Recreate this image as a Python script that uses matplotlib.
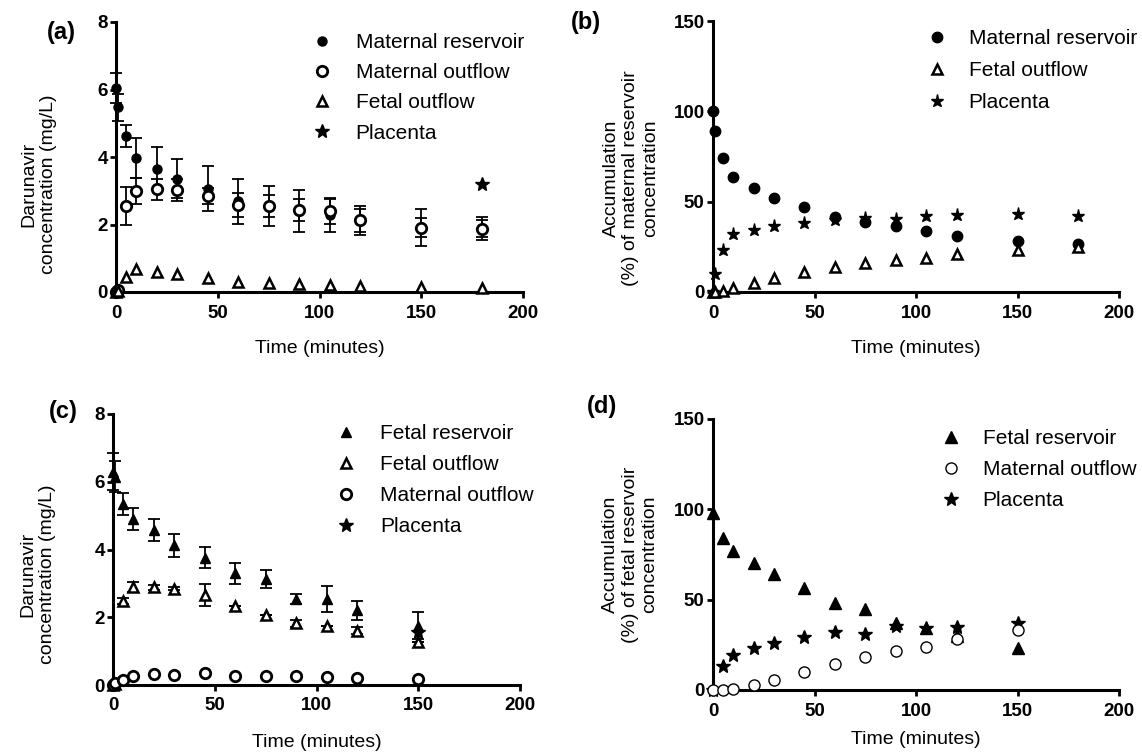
import numpy as np
import matplotlib
matplotlib.use('Agg')
import matplotlib.pyplot as plt

plt.rcParams['font.family'] = ['Liberation Sans', 'DejaVu Sans']

# ---- data ----
t_all = [0, 1, 5, 10, 20, 30, 45, 60, 75, 90, 105, 120, 150, 180]

# (a) darunavir concentration, maternal -> fetal perfusion (mg/L)
a_mat_res = [6.05, 5.48, 4.62, 3.98, 3.65, 3.36, 3.06, 2.69, 2.55, 2.40, 2.27, 2.12, 1.90, 1.88]
a_mat_res_sd = [0.45, 0.40, 0.33, 0.59, 0.64, 0.58, 0.67, 0.67, 0.60, 0.62, 0.50, 0.42, 0.55, 0.25]
a_mat_out = [0.0, 0.05, 2.55, 2.99, 3.04, 3.03, 2.85, 2.57, 2.55, 2.42, 2.40, 2.12, 1.90, 1.88]
a_mat_out_sd = [0.0, 0.0, 0.55, 0.38, 0.32, 0.33, 0.23, 0.36, 0.32, 0.33, 0.38, 0.35, 0.28, 0.35]
a_fet_out = [0.0, 0.02, 0.45, 0.69, 0.60, 0.52, 0.41, 0.31, 0.27, 0.23, 0.20, 0.17, 0.15, 0.13]
a_plac_t = [180]
a_plac = [3.21]

# (b) accumulation, % of maternal reservoir
b_mat_res = [100, 88.9, 74.4, 63.7, 57.6, 52.2, 47.0, 41.5, 38.7, 36.7, 33.8, 31.0, 28.0, 26.8]
b_fet_out = [0, 0, 0.8, 2.2, 5.0, 7.7, 11.0, 13.8, 16.0, 17.9, 19.0, 21.2, 23.0, 24.9]
b_plac = [0, 10.1, 23.4, 32.3, 34.5, 36.7, 38.4, 40.0, 41.0, 40.6, 41.9, 42.4, 43.0, 41.9]

# (c) darunavir concentration, fetal -> maternal perfusion (mg/L)
t_c = [0, 1, 5, 10, 20, 30, 45, 60, 75, 90, 105, 120, 150]
c_fet_res = [6.30, 6.15, 5.34, 4.90, 4.58, 4.12, 3.76, 3.30, 3.12, 2.53, 2.54, 2.20, 1.75]
c_fet_res_sd = [0.55, 0.45, 0.33, 0.33, 0.33, 0.33, 0.32, 0.31, 0.27, 0.15, 0.38, 0.28, 0.40]
c_fet_out = [0.0, 0.02, 2.48, 2.90, 2.88, 2.84, 2.66, 2.32, 2.07, 1.82, 1.74, 1.60, 1.28]
c_fet_out_sd = [0.0, 0.0, 0.10, 0.15, 0.08, 0.05, 0.32, 0.0, 0.0, 0.10, 0.0, 0.10, 0.0]
c_mat_out = [0.0, 0.05, 0.15, 0.27, 0.31, 0.29, 0.34, 0.28, 0.28, 0.27, 0.23, 0.20, 0.17]
c_plac_t = [150]
c_plac = [1.55]

# (d) accumulation, % of fetal reservoir
t_d = [0, 5, 10, 20, 30, 45, 60, 75, 90, 105, 120, 150]
d_fet_res = [98, 84, 77, 70.2, 64.1, 56.3, 48.4, 44.7, 36.9, 34.2, 29.9, 23.1]
d_mat_out = [0, 0, 0.5, 2.8, 5.5, 9.8, 14.4, 18.1, 21.8, 24.0, 28.3, 33.3]
d_plac = [0, 13.5, 19.4, 23.1, 26.2, 29.2, 32.0, 31.0, 35.5, 34.5, 35.1, 37.3]

W, H = 1142, 753
fig = plt.figure(figsize=(W / 100, H / 100), dpi=100)


def px_axes(l, t, r, b):
    return fig.add_axes([l / W, 1 - b / H, (r - l) / W, (b - t) / H])


def style(ax, ymax, ystep, xpad):
    for s in ['top', 'right']:
        ax.spines[s].set_visible(False)
    for s in ['left', 'bottom']:
        ax.spines[s].set_linewidth(2.2)
    ax.set_xlim(0, 200)
    ax.set_ylim(0, ymax)
    ax.set_xticks([0, 50, 100, 150, 200])
    ax.set_yticks(np.arange(0, ymax + 0.1, ystep))
    ax.tick_params(width=2, length=4, labelsize=13.5)
    ax.tick_params(axis='x', pad=5)
    ax.tick_params(axis='y', pad=2)
    for lab in ax.get_xticklabels() + ax.get_yticklabels():
        lab.set_fontweight('bold')
    ax.set_xlabel('Time (minutes)', fontsize=14, labelpad=xpad)


filled = dict(color='black', linestyle='none', clip_on=False, zorder=4)
opened = dict(color='black', mfc='white', linestyle='none', clip_on=False, zorder=5)
ebar = dict(ecolor='black', elinewidth=1.3, capsize=4, capthick=1.3, clip_on=False)


def add_legend(ax, x, top, pad, spacing):
    ax.legend(loc='upper left', bbox_to_anchor=(x / W, 1 - top / H), bbox_transform=fig.transFigure,
              frameon=False, fontsize=15, handlelength=1.0, handletextpad=pad,
              borderpad=0, borderaxespad=0, labelspacing=spacing, numpoints=1)


# ---- (a) ----
ax1 = px_axes(116, 22, 523, 292)
style(ax1, 8, 2, 13)
ax1.errorbar(t_all, a_mat_res, yerr=a_mat_res_sd, fmt='none', zorder=2, **ebar)
ax1.errorbar(t_all, a_mat_out, yerr=a_mat_out_sd, fmt='none', zorder=2, **ebar)
ax1.plot(t_all, a_mat_res, marker='o', ms=6.5, label='Maternal reservoir', **filled)
ax1.plot(t_all, a_mat_out, marker='o', ms=7.5, mew=2, label='Maternal outflow', **opened)
ax1.plot(t_all, a_fet_out, marker='^', ms=6.5, mew=1.8, label='Fetal outflow', **opened)
ax1.plot(a_plac_t, a_plac, marker='*', ms=10, label='Placenta', **filled)
ax1.set_ylabel('Darunavir\nconcentration (mg/L)', fontsize=14)
ax1.yaxis.set_label_coords(-0.146, 0.40)
add_legend(ax1, 312, 33, 1.1, 0.54)
fig.text(47 / W, 1 - 33 / H, '(a)', fontsize=17, fontweight='bold', va='center')

# ---- (b) ----
ax2 = px_axes(713, 21, 1119, 292)
style(ax2, 150, 50, 13)
ax2.plot(t_all, b_mat_res, marker='o', ms=7.5, label='Maternal reservoir', **filled)
ax2.plot(t_all, b_fet_out, marker='^', ms=6.5, mew=1.8, label='Fetal outflow', **opened)
ax2.plot(t_all, b_plac, marker='*', ms=9.5, label='Placenta', **filled)
ax2.set_ylabel('Accumulation\n(%) of maternal reservoir\nconcentration', fontsize=14)
ax2.yaxis.set_label_coords(-0.133, 0.42)
add_legend(ax2, 927, 29, 1.0, 0.62)
fig.text(571 / W, 1 - 23 / H, '(b)', fontsize=17, fontweight='bold', va='center')

# ---- (c) ----
ax3 = px_axes(113, 414, 520, 685)
style(ax3, 8, 2, 14)
ax3.errorbar(t_c, c_fet_res, yerr=c_fet_res_sd, fmt='none', zorder=2, **ebar)
ax3.errorbar(t_c, c_fet_out, yerr=c_fet_out_sd, fmt='none', zorder=2, **ebar)
ax3.plot(t_c, c_fet_res, marker='^', ms=7.5, label='Fetal reservoir', **filled)
ax3.plot(t_c, c_fet_out, marker='^', ms=6.5, mew=1.8, label='Fetal outflow', **opened)
ax3.plot(t_c, c_mat_out, marker='o', ms=7.5, mew=2, label='Maternal outflow', **opened)
ax3.plot(c_plac_t, c_plac, marker='*', ms=10, label='Placenta', **filled)
ax3.set_ylabel('Darunavir\nconcentration (mg/L)', fontsize=14)
ax3.yaxis.set_label_coords(-0.14, 0.41)
add_legend(ax3, 336, 424, 1.1, 0.58)
fig.text(49 / W, 1 - 412 / H, '(c)', fontsize=17, fontweight='bold', va='center')

# ---- (d) ----
ax4 = px_axes(713, 419, 1119, 690)
style(ax4, 150, 50, 8)
ax4.plot(t_d, d_fet_res, marker='^', ms=8, label='Fetal reservoir', **filled)
ax4.plot(t_d, d_mat_out, marker='o', ms=8, mew=1, label='Maternal outflow', **opened)
ax4.plot(t_d, d_plac, marker='*', ms=10, label='Placenta', **filled)
ax4.set_ylabel('Accumulation\n(%) of fetal reservoir\nconcentration', fontsize=14)
ax4.yaxis.set_label_coords(-0.135, 0.50)
add_legend(ax4, 941, 429, 1.0, 0.58)
fig.text(587 / W, 1 - 407 / H, '(d)', fontsize=17, fontweight='bold', va='center')

fig.savefig('out.png', dpi=100)
